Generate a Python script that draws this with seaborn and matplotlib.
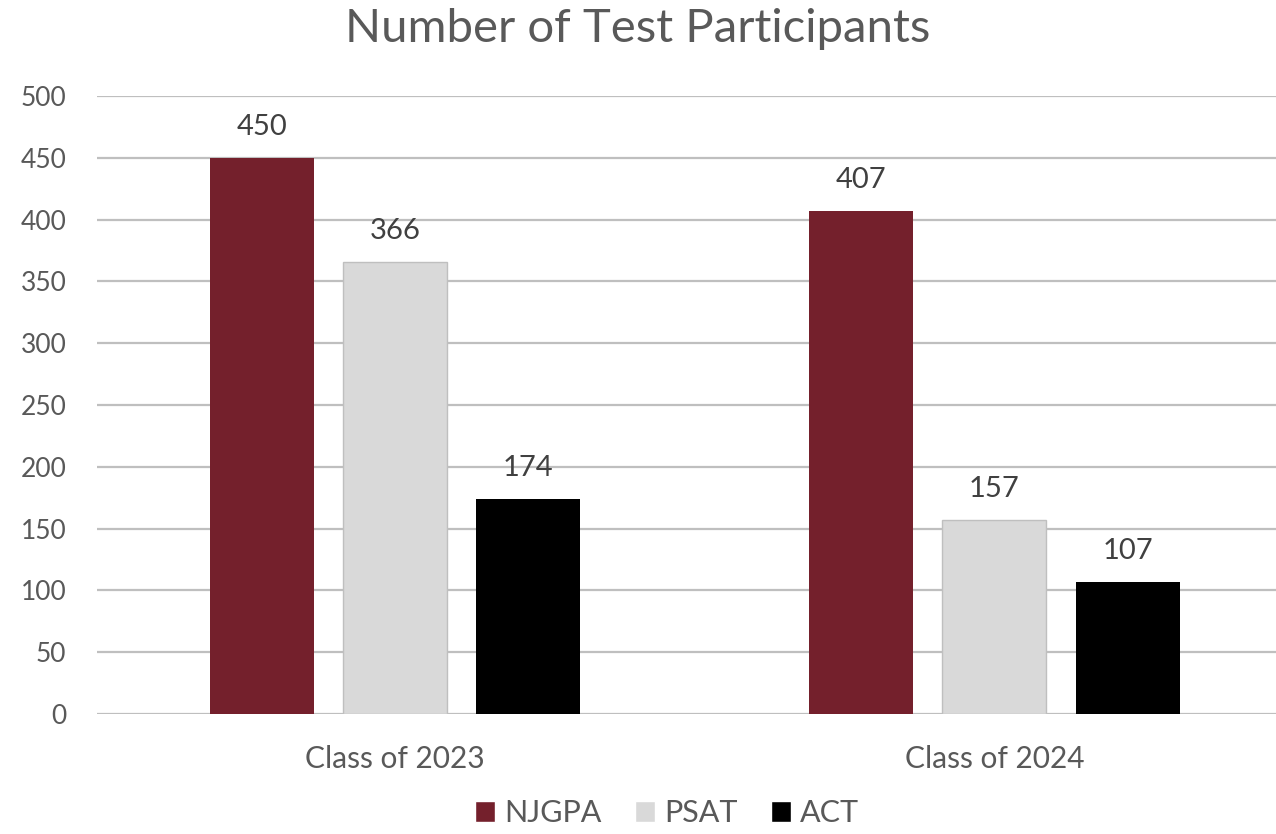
import matplotlib
matplotlib.use("Agg")
import matplotlib.pyplot as plt
import pandas as pd
import seaborn as sns

# Chart data
classes = ["Class of 2023", "Class of 2024"]
tests = ["NJGPA", "PSAT", "ACT"]
njgpa = [450, 407]
psat = [366, 157]
act = [174, 107]

colors = ["#74202C", "#D9D9D9", "#000000"]
text_color = "#595959"
grid_color = "#BFBFBF"

rows = []
for test, values in zip(tests, [njgpa, psat, act]):
    for cls, value in zip(classes, values):
        rows.append({"Class": cls, "Test": test, "Participants": value})
df = pd.DataFrame(rows)

sns.set_theme(style="white")
plt.rcParams["font.family"] = ["Lato", "DejaVu Sans"]

fig = plt.figure(figsize=(12.76, 8.34), dpi=100)
ax = fig.add_axes([97 / 1276, 120 / 834, 1 - 97 / 1276, 618 / 834])

sns.barplot(
    data=df,
    x="Class",
    y="Participants",
    hue="Test",
    hue_order=tests,
    order=classes,
    palette=colors,
    saturation=1,
    width=0.667,
    gap=0.22,
    ax=ax,
    legend=True,
)

# PSAT bars get a thin gray outline
for bar_container, test in zip(ax.containers, tests):
    for bar in bar_container:
        bar.set_edgecolor(grid_color if test == "PSAT" else "none")
        bar.set_linewidth(1.0)
        bar.set_zorder(3)
    ax.bar_label(bar_container, labels=[str(int(b.get_height())) for b in bar_container],
                 padding=13, fontsize=21, color="#404040")

ax.set_ylim(0, 500)
ax.set_xlim(-0.4975, 1.47)
ax.set_yticks(range(0, 501, 50))
ax.yaxis.grid(True, color=grid_color, linewidth=1.6)
ax.set_axisbelow(True)
for spine in ax.spines.values():
    spine.set_visible(False)

ax.tick_params(axis="y", length=0, pad=22, labelsize=19, labelcolor=text_color)
ax.tick_params(axis="x", length=0, pad=22, labelsize=21.5, labelcolor=text_color)
ax.set_xlabel("")
ax.set_ylabel("")

fig.suptitle("Number of Test Participants", y=0.99, fontsize=34, color=text_color)

handles, labels = ax.get_legend_handles_labels()
ax.get_legend().remove()
fig.legend(handles, labels, loc="lower center", bbox_to_anchor=(0.523, -0.025), ncol=3,
           frameon=False, fontsize=22, handlelength=0.65, handleheight=0.65,
           handletextpad=0.3, columnspacing=1.1, labelcolor=text_color)

fig.savefig("out.png", dpi=100)
